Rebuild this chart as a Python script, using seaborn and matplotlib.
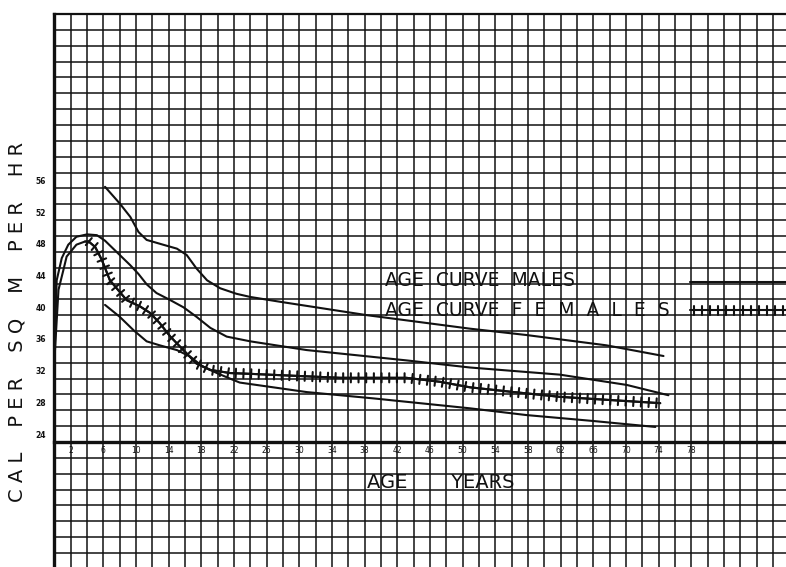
import numpy as np
import pandas as pd
import matplotlib
matplotlib.use("Agg")
import matplotlib.pyplot as plt
from matplotlib import patheffects as pe
import seaborn as sns

# values (age in years, cal per sq m per hr)
male_age = [0, 0.28, 0.9, 1.7, 2.7, 4.0, 5.2, 6.2, 7.6, 9.3, 10.3, 11.3, 12.5, 14.2,
            15.8, 17.4, 19.1, 21.1, 24.0, 30.9, 43.1, 50.9, 61.9, 70.1, 75.2]
male_cal = [33.3, 43.4, 46.2, 47.9, 48.9, 49.2, 49.1, 48.4, 47.0, 45.3, 44.2, 42.9, 41.8, 40.9,
            40.0, 38.8, 37.4, 36.3, 35.7, 34.6, 33.3, 32.4, 31.5, 30.2, 28.9]

female_age = [0, 0.5, 1.1, 1.5, 2.7, 3.75, 4.2, 5.0, 5.8, 6.8, 8.85, 10.5, 11.7, 12.9,
              14.2, 15.8, 17.4, 19.1, 21.5, 24.0, 35.0, 43.1, 47.2, 50.9, 55.8, 61.9, 68.0, 74.2]
female_cal = [33.3, 42.2, 44.7, 46.4, 47.9, 48.3, 48.3, 47.6, 46.0, 43.4, 40.9, 40.1, 39.3, 38.0,
              36.3, 34.6, 32.9, 32.1, 31.7, 31.6, 31.1, 31.1, 30.6, 29.9, 29.35, 28.7, 28.3, 27.9]

upper_age = [6.2, 8.0, 9.3, 10.3, 11.3, 13.3, 15.0, 16.2, 17.4, 18.7, 20.3, 22.3, 24.0,
             27.6, 38.3, 50.9, 57.8, 67.6, 74.6]
upper_cal = [55.2, 53.1, 51.4, 49.5, 48.5, 47.9, 47.4, 46.6, 44.9, 43.4, 42.4, 41.7, 41.3,
             40.7, 39.0, 37.3, 36.5, 35.2, 33.85]

lower_age = [6.2, 8.0, 9.7, 11.3, 12.9, 15.0, 16.6, 18.2, 19.9, 21.5, 22.7, 30.9, 39.1,
             50.9, 57.8, 66.0, 73.6]
lower_cal = [40.3, 38.8, 37.1, 35.7, 35.2, 34.6, 33.8, 32.5, 31.7, 31.0, 30.5, 29.3, 28.5,
             27.25, 26.4, 25.65, 24.9]

x_ticks = list(range(2, 79, 4))
y_ticks = list(range(24, 57, 4))
legend_labels = ["AGE  CURVE  MALES", "AGE  CURVE  F  E  M  A  L  E  S"]

sns.set_theme(style="white")
plt.rcParams["font.family"] = ["DejaVu Sans"]

ink = "#111111"
W, H = 786, 567
fig = plt.figure(figsize=(W / 100, H / 100), dpi=100)
ax = fig.add_axes([54.4 / W, 0, 1 - 54.4 / W, 1 - 14 / H])
ax.set_xlim(0, (W - 54.4) / 8.165)
ax.set_ylim(23 - 125 / 7.925, 23 + 428 / 7.925)

# graph paper grid: one cell = 2 units
ax.xaxis.remove_overlapping_locs = False
ax.set_xticks(np.arange(0, 90, 2), minor=True)
ax.set_yticks(np.arange(9, 78, 2), minor=True)
ax.grid(which="minor", color=ink, linewidth=1.1)
ax.grid(which="major", visible=False)

ax.set_xticks(x_ticks)
ax.set_xticklabels([str(v) for v in x_ticks])
ax.set_yticks(y_ticks)
ax.set_yticklabels([str(v) for v in y_ticks])
ax.tick_params(which="both", length=0)
ax.tick_params(axis="x", pad=3, labelsize=5.5, labelcolor=ink)
ax.tick_params(axis="y", pad=6, labelsize=5.5, labelcolor=ink)
for lab in ax.get_xticklabels() + ax.get_yticklabels():
    lab.set_fontweight("bold")

ax.spines["bottom"].set_position(("data", 23))
ax.spines["bottom"].set_linewidth(2.4)
ax.spines["left"].set_linewidth(2.4)
ax.spines["top"].set_linewidth(1.6)
for s in ["bottom", "left", "top"]:
    ax.spines[s].set_color(ink)
ax.spines["right"].set_visible(False)

lw = 1.5
sns.lineplot(x=upper_age, y=upper_cal, ax=ax, color=ink, linewidth=lw, sort=False)
male_line = sns.lineplot(x=male_age, y=male_cal, ax=ax, color=ink, linewidth=lw,
                         sort=False).lines[-1]
sns.lineplot(x=lower_age, y=lower_cal, ax=ax, color=ink, linewidth=lw, sort=False)
sns.lineplot(x=female_age, y=female_cal, ax=ax, color=ink, linewidth=lw, sort=False)

hatch = [pe.TickedStroke(angle=90, spacing=5.5, length=0.6),
         pe.TickedStroke(angle=-90, spacing=5.5, length=0.6),
         pe.Normal()]
sns.lineplot(x=female_age[5:], y=female_cal[5:], ax=ax, color=ink, linewidth=lw, sort=False)
female_line = ax.lines[-1]
female_line.set_path_effects(hatch)

# legend: label text at the left, line samples at the right edge
ax.legend([male_line, female_line], ["", ""],
          loc="center left", bbox_to_anchor=(690 / W, 1 - 297 / H),
          bbox_transform=fig.transFigure, frameon=False,
          borderpad=0, borderaxespad=0, handletextpad=0, handlelength=7,
          labelspacing=0.62, prop={"size": 12.5})
for lab, ypx in zip(legend_labels, [281, 310]):
    fig.text(385 / W, 1 - ypx / H, lab, fontsize=13.5, color=ink,
             ha="left", va="center")

ax.set_xlabel("AGE       YEARS", fontsize=14, color=ink)
ax.xaxis.set_label_coords((441 - 54.4) / (W - 54.4), (H - 473) / (H - 14))
ax.set_ylabel("C A L    P E R    S Q    M    P E R    H R", fontsize=14, color=ink)
ax.yaxis.set_label_coords((27 - 54.4) / (W - 54.4), (H - 322) / (H - 14))

plt.savefig("out.png", dpi=100)
plt.close()
